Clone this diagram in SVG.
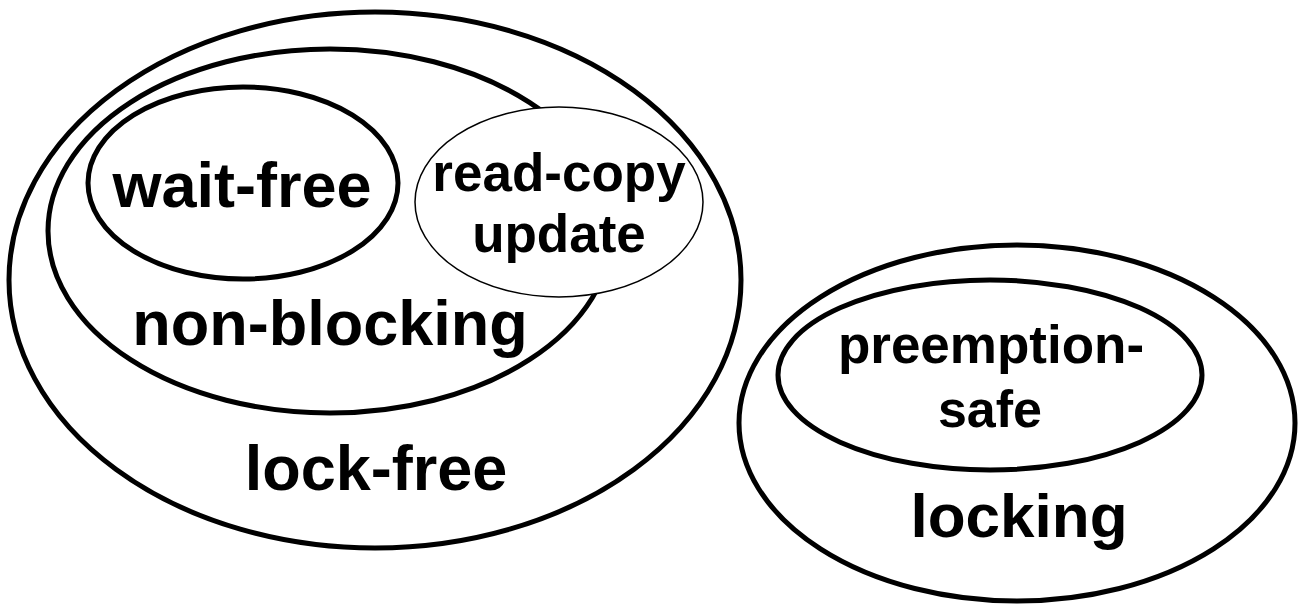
<svg xmlns="http://www.w3.org/2000/svg" width="1299" height="607" viewBox="0 0 1299 607">
<style>
.set{fill:none;stroke:#000;stroke-width:5}
.thin{fill:none;stroke:#000;stroke-width:1.5}
text{font-family:"Liberation Sans",Arial,sans-serif;font-weight:bold;fill:#000;text-anchor:middle}
</style>
<rect width="1299" height="607" fill="#fff"/>
<g id="lock-free">
<ellipse class="set" cx="375" cy="280" rx="366" ry="268"/>
<text x="376" y="490" font-size="63">lock-free</text>
</g>
<g id="non-blocking">
<ellipse class="set" cx="330" cy="231" rx="282" ry="182"/>
<text x="330" y="345" font-size="63">non-blocking</text>
</g>
<g id="wait-free">
<ellipse class="set" cx="243" cy="183" rx="155" ry="96"/>
<text x="242" y="207" font-size="63">wait-free</text>
</g>
<g id="read-copy-update">
<ellipse cx="559" cy="202" rx="144" ry="95" fill="#fff" stroke="#000" stroke-width="1.5"/>
<text x="559" y="191" font-size="53">read-copy</text>
<text x="559" y="252" font-size="53">update</text>
</g>
<g id="locking">
<ellipse class="set" cx="1017" cy="423" rx="278" ry="178"/>
<text x="1019" y="537" font-size="62">locking</text>
</g>
<g id="preemption-safe">
<ellipse class="set" cx="990" cy="375" rx="212" ry="95"/>
<text x="991" y="363" font-size="53">preemption-</text>
<text x="990" y="427" font-size="52">safe</text>
</g>
<g id="connectors"/>
</svg>
